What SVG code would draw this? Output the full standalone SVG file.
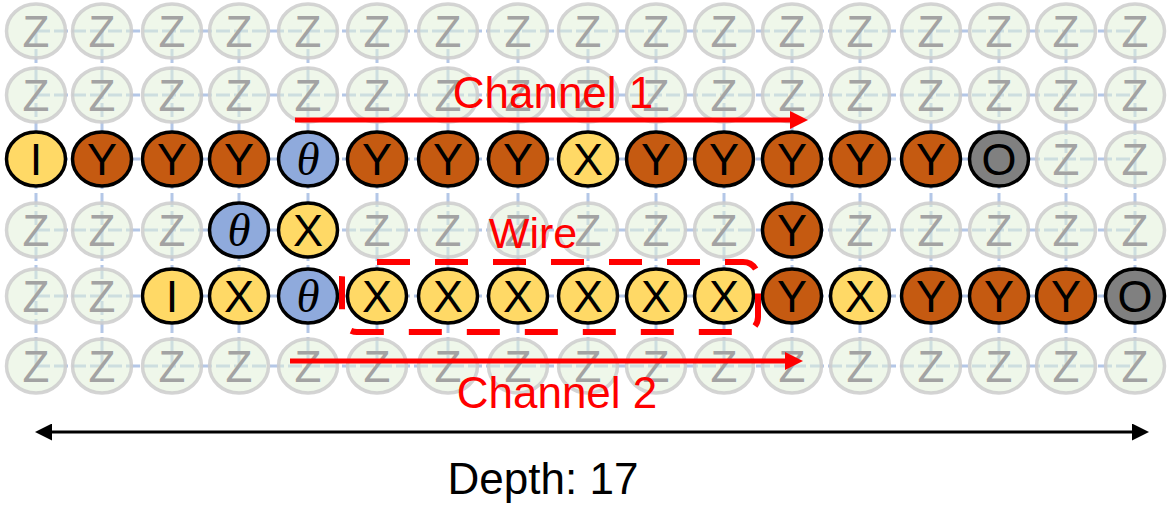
<svg xmlns="http://www.w3.org/2000/svg" width="1169" height="507" viewBox="0 0 1169 507">
<defs>
<style>
.grid{stroke:#B4C7E7;stroke-width:3;fill:none;stroke-dasharray:14 4}
ellipse{stroke-width:3.5;stroke:#000}
text{font-family:"Liberation Sans",Arial,sans-serif;font-size:45px;text-anchor:middle;fill:#000}
.z ellipse{fill:#E2F0D9;fill-opacity:0.55;stroke:#CCCCCC;stroke-opacity:0.85;stroke-width:3.5}
.z text{fill:#A3A3A3;font-size:44px}
.y ellipse{fill:#FFD966}
.o ellipse{fill:#C55A11}
.b ellipse{fill:#8FAADC}
.g ellipse{fill:#808080}
.b text{font-family:"Liberation Serif","DejaVu Serif",serif;font-style:italic;font-size:47px}
.lbl{fill:#FF0000;font-size:44px}
.red{stroke:#FF0000;stroke-width:5;fill:none}
.blk{stroke:#000;stroke-width:3;fill:none}
</style>
<marker id="ra" markerUnits="userSpaceOnUse" markerWidth="18" markerHeight="18" refX="8" refY="9" orient="auto"><path d="M0,0 L18,9 L0,18 z" fill="#FF0000"/></marker>
<marker id="ba" markerUnits="userSpaceOnUse" markerWidth="17" markerHeight="17" refX="8" refY="8.5" orient="auto-start-reverse"><path d="M0,0 L17,8.5 L0,17 z" fill="#000"/></marker>
</defs>
<g id="grid">
<path class="grid" d="M36,31V366 M102,31V366 M172,31V366 M239,31V366 M308,31V366 M377,31V366 M448,31V366 M518,31V366 M588,31V366 M656,31V366 M724,31V366 M792,31V366 M860,31V366 M931,31V366 M999,31V366 M1066,31V366 M1135,31V366 M36,31H1135 M36,95H1135 M36,159H1135 M36,230H1135 M36,296H1135 M36,366H1135"/>
</g>
<g id="nodes">
<!-- row 1 -->
<g id="n1-1" class="z"><ellipse cx="36" cy="31" rx="29.5" ry="27"/><text x="36" y="47">Z</text></g>
<g id="n1-2" class="z"><ellipse cx="102" cy="31" rx="29.5" ry="27"/><text x="102" y="47">Z</text></g>
<g id="n1-3" class="z"><ellipse cx="172" cy="31" rx="29.5" ry="27"/><text x="172" y="47">Z</text></g>
<g id="n1-4" class="z"><ellipse cx="239" cy="31" rx="29.5" ry="27"/><text x="239" y="47">Z</text></g>
<g id="n1-5" class="z"><ellipse cx="308" cy="31" rx="29.5" ry="27"/><text x="308" y="47">Z</text></g>
<g id="n1-6" class="z"><ellipse cx="377" cy="31" rx="29.5" ry="27"/><text x="377" y="47">Z</text></g>
<g id="n1-7" class="z"><ellipse cx="448" cy="31" rx="29.5" ry="27"/><text x="448" y="47">Z</text></g>
<g id="n1-8" class="z"><ellipse cx="518" cy="31" rx="29.5" ry="27"/><text x="518" y="47">Z</text></g>
<g id="n1-9" class="z"><ellipse cx="588" cy="31" rx="29.5" ry="27"/><text x="588" y="47">Z</text></g>
<g id="n1-10" class="z"><ellipse cx="656" cy="31" rx="29.5" ry="27"/><text x="656" y="47">Z</text></g>
<g id="n1-11" class="z"><ellipse cx="724" cy="31" rx="29.5" ry="27"/><text x="724" y="47">Z</text></g>
<g id="n1-12" class="z"><ellipse cx="792" cy="31" rx="29.5" ry="27"/><text x="792" y="47">Z</text></g>
<g id="n1-13" class="z"><ellipse cx="860" cy="31" rx="29.5" ry="27"/><text x="860" y="47">Z</text></g>
<g id="n1-14" class="z"><ellipse cx="931" cy="31" rx="29.5" ry="27"/><text x="931" y="47">Z</text></g>
<g id="n1-15" class="z"><ellipse cx="999" cy="31" rx="29.5" ry="27"/><text x="999" y="47">Z</text></g>
<g id="n1-16" class="z"><ellipse cx="1066" cy="31" rx="29.5" ry="27"/><text x="1066" y="47">Z</text></g>
<g id="n1-17" class="z"><ellipse cx="1135" cy="31" rx="29.5" ry="27"/><text x="1135" y="47">Z</text></g>
<!-- row 2 -->
<g id="n2-1" class="z"><ellipse cx="36" cy="95" rx="29.5" ry="27"/><text x="36" y="111">Z</text></g>
<g id="n2-2" class="z"><ellipse cx="102" cy="95" rx="29.5" ry="27"/><text x="102" y="111">Z</text></g>
<g id="n2-3" class="z"><ellipse cx="172" cy="95" rx="29.5" ry="27"/><text x="172" y="111">Z</text></g>
<g id="n2-4" class="z"><ellipse cx="239" cy="95" rx="29.5" ry="27"/><text x="239" y="111">Z</text></g>
<g id="n2-5" class="z"><ellipse cx="308" cy="95" rx="29.5" ry="27"/><text x="308" y="111">Z</text></g>
<g id="n2-6" class="z"><ellipse cx="377" cy="95" rx="29.5" ry="27"/><text x="377" y="111">Z</text></g>
<g id="n2-7" class="z"><ellipse cx="448" cy="95" rx="29.5" ry="27"/><text x="448" y="111">Z</text></g>
<g id="n2-8" class="z"><ellipse cx="518" cy="95" rx="29.5" ry="27"/><text x="518" y="111">Z</text></g>
<g id="n2-9" class="z"><ellipse cx="588" cy="95" rx="29.5" ry="27"/><text x="588" y="111">Z</text></g>
<g id="n2-10" class="z"><ellipse cx="656" cy="95" rx="29.5" ry="27"/><text x="656" y="111">Z</text></g>
<g id="n2-11" class="z"><ellipse cx="724" cy="95" rx="29.5" ry="27"/><text x="724" y="111">Z</text></g>
<g id="n2-12" class="z"><ellipse cx="792" cy="95" rx="29.5" ry="27"/><text x="792" y="111">Z</text></g>
<g id="n2-13" class="z"><ellipse cx="860" cy="95" rx="29.5" ry="27"/><text x="860" y="111">Z</text></g>
<g id="n2-14" class="z"><ellipse cx="931" cy="95" rx="29.5" ry="27"/><text x="931" y="111">Z</text></g>
<g id="n2-15" class="z"><ellipse cx="999" cy="95" rx="29.5" ry="27"/><text x="999" y="111">Z</text></g>
<g id="n2-16" class="z"><ellipse cx="1066" cy="95" rx="29.5" ry="27"/><text x="1066" y="111">Z</text></g>
<g id="n2-17" class="z"><ellipse cx="1135" cy="95" rx="29.5" ry="27"/><text x="1135" y="111">Z</text></g>
<!-- row 3 -->
<g id="n3-1" class="y"><ellipse cx="36" cy="159" rx="29.5" ry="27"/><text x="36" y="175">I</text></g>
<g id="n3-2" class="o"><ellipse cx="102" cy="159" rx="29.5" ry="27"/><text x="102" y="175">Y</text></g>
<g id="n3-3" class="o"><ellipse cx="172" cy="159" rx="29.5" ry="27"/><text x="172" y="175">Y</text></g>
<g id="n3-4" class="o"><ellipse cx="239" cy="159" rx="29.5" ry="27"/><text x="239" y="175">Y</text></g>
<g id="n3-5" class="b"><ellipse cx="308" cy="159" rx="29.5" ry="27"/><text x="308" y="175">θ</text></g>
<g id="n3-6" class="o"><ellipse cx="377" cy="159" rx="29.5" ry="27"/><text x="377" y="175">Y</text></g>
<g id="n3-7" class="o"><ellipse cx="448" cy="159" rx="29.5" ry="27"/><text x="448" y="175">Y</text></g>
<g id="n3-8" class="o"><ellipse cx="518" cy="159" rx="29.5" ry="27"/><text x="518" y="175">Y</text></g>
<g id="n3-9" class="y"><ellipse cx="588" cy="159" rx="29.5" ry="27"/><text x="588" y="175">X</text></g>
<g id="n3-10" class="o"><ellipse cx="656" cy="159" rx="29.5" ry="27"/><text x="656" y="175">Y</text></g>
<g id="n3-11" class="o"><ellipse cx="724" cy="159" rx="29.5" ry="27"/><text x="724" y="175">Y</text></g>
<g id="n3-12" class="o"><ellipse cx="792" cy="159" rx="29.5" ry="27"/><text x="792" y="175">Y</text></g>
<g id="n3-13" class="o"><ellipse cx="860" cy="159" rx="29.5" ry="27"/><text x="860" y="175">Y</text></g>
<g id="n3-14" class="o"><ellipse cx="931" cy="159" rx="29.5" ry="27"/><text x="931" y="175">Y</text></g>
<g id="n3-15" class="g"><ellipse cx="999" cy="159" rx="29.5" ry="27"/><text x="999" y="175">O</text></g>
<g id="n3-16" class="z"><ellipse cx="1066" cy="159" rx="29.5" ry="27"/><text x="1066" y="175">Z</text></g>
<g id="n3-17" class="z"><ellipse cx="1135" cy="159" rx="29.5" ry="27"/><text x="1135" y="175">Z</text></g>
<!-- row 4 -->
<g id="n4-1" class="z"><ellipse cx="36" cy="230" rx="29.5" ry="27"/><text x="36" y="246">Z</text></g>
<g id="n4-2" class="z"><ellipse cx="102" cy="230" rx="29.5" ry="27"/><text x="102" y="246">Z</text></g>
<g id="n4-3" class="z"><ellipse cx="172" cy="230" rx="29.5" ry="27"/><text x="172" y="246">Z</text></g>
<g id="n4-4" class="b"><ellipse cx="239" cy="230" rx="29.5" ry="27"/><text x="239" y="246">θ</text></g>
<g id="n4-5" class="y"><ellipse cx="308" cy="230" rx="29.5" ry="27"/><text x="308" y="246">X</text></g>
<g id="n4-6" class="z"><ellipse cx="377" cy="230" rx="29.5" ry="27"/><text x="377" y="246">Z</text></g>
<g id="n4-7" class="z"><ellipse cx="448" cy="230" rx="29.5" ry="27"/><text x="448" y="246">Z</text></g>
<g id="n4-8" class="z"><ellipse cx="518" cy="230" rx="29.5" ry="27"/><text x="518" y="246">Z</text></g>
<g id="n4-9" class="z"><ellipse cx="588" cy="230" rx="29.5" ry="27"/><text x="588" y="246">Z</text></g>
<g id="n4-10" class="z"><ellipse cx="656" cy="230" rx="29.5" ry="27"/><text x="656" y="246">Z</text></g>
<g id="n4-11" class="z"><ellipse cx="724" cy="230" rx="29.5" ry="27"/><text x="724" y="246">Z</text></g>
<g id="n4-12" class="o"><ellipse cx="792" cy="230" rx="29.5" ry="27"/><text x="792" y="246">Y</text></g>
<g id="n4-13" class="z"><ellipse cx="860" cy="230" rx="29.5" ry="27"/><text x="860" y="246">Z</text></g>
<g id="n4-14" class="z"><ellipse cx="931" cy="230" rx="29.5" ry="27"/><text x="931" y="246">Z</text></g>
<g id="n4-15" class="z"><ellipse cx="999" cy="230" rx="29.5" ry="27"/><text x="999" y="246">Z</text></g>
<g id="n4-16" class="z"><ellipse cx="1066" cy="230" rx="29.5" ry="27"/><text x="1066" y="246">Z</text></g>
<g id="n4-17" class="z"><ellipse cx="1135" cy="230" rx="29.5" ry="27"/><text x="1135" y="246">Z</text></g>
<!-- row 5 -->
<g id="n5-1" class="z"><ellipse cx="36" cy="296" rx="29.5" ry="27"/><text x="36" y="312">Z</text></g>
<g id="n5-2" class="z"><ellipse cx="102" cy="296" rx="29.5" ry="27"/><text x="102" y="312">Z</text></g>
<g id="n5-3" class="y"><ellipse cx="172" cy="296" rx="29.5" ry="27"/><text x="172" y="312">I</text></g>
<g id="n5-4" class="y"><ellipse cx="239" cy="296" rx="29.5" ry="27"/><text x="239" y="312">X</text></g>
<g id="n5-5" class="b"><ellipse cx="308" cy="296" rx="29.5" ry="27"/><text x="308" y="312">θ</text></g>
<g id="n5-6" class="y"><ellipse cx="377" cy="296" rx="29.5" ry="27"/><text x="377" y="312">X</text></g>
<g id="n5-7" class="y"><ellipse cx="448" cy="296" rx="29.5" ry="27"/><text x="448" y="312">X</text></g>
<g id="n5-8" class="y"><ellipse cx="518" cy="296" rx="29.5" ry="27"/><text x="518" y="312">X</text></g>
<g id="n5-9" class="y"><ellipse cx="588" cy="296" rx="29.5" ry="27"/><text x="588" y="312">X</text></g>
<g id="n5-10" class="y"><ellipse cx="656" cy="296" rx="29.5" ry="27"/><text x="656" y="312">X</text></g>
<g id="n5-11" class="y"><ellipse cx="724" cy="296" rx="29.5" ry="27"/><text x="724" y="312">X</text></g>
<g id="n5-12" class="o"><ellipse cx="792" cy="296" rx="29.5" ry="27"/><text x="792" y="312">Y</text></g>
<g id="n5-13" class="y"><ellipse cx="860" cy="296" rx="29.5" ry="27"/><text x="860" y="312">X</text></g>
<g id="n5-14" class="o"><ellipse cx="931" cy="296" rx="29.5" ry="27"/><text x="931" y="312">Y</text></g>
<g id="n5-15" class="o"><ellipse cx="999" cy="296" rx="29.5" ry="27"/><text x="999" y="312">Y</text></g>
<g id="n5-16" class="o"><ellipse cx="1066" cy="296" rx="29.5" ry="27"/><text x="1066" y="312">Y</text></g>
<g id="n5-17" class="g"><ellipse cx="1135" cy="296" rx="29.5" ry="27"/><text x="1135" y="312">O</text></g>
<!-- row 6 -->
<g id="n6-1" class="z"><ellipse cx="36" cy="366" rx="29.5" ry="27"/><text x="36" y="382">Z</text></g>
<g id="n6-2" class="z"><ellipse cx="102" cy="366" rx="29.5" ry="27"/><text x="102" y="382">Z</text></g>
<g id="n6-3" class="z"><ellipse cx="172" cy="366" rx="29.5" ry="27"/><text x="172" y="382">Z</text></g>
<g id="n6-4" class="z"><ellipse cx="239" cy="366" rx="29.5" ry="27"/><text x="239" y="382">Z</text></g>
<g id="n6-5" class="z"><ellipse cx="308" cy="366" rx="29.5" ry="27"/><text x="308" y="382">Z</text></g>
<g id="n6-6" class="z"><ellipse cx="377" cy="366" rx="29.5" ry="27"/><text x="377" y="382">Z</text></g>
<g id="n6-7" class="z"><ellipse cx="448" cy="366" rx="29.5" ry="27"/><text x="448" y="382">Z</text></g>
<g id="n6-8" class="z"><ellipse cx="518" cy="366" rx="29.5" ry="27"/><text x="518" y="382">Z</text></g>
<g id="n6-9" class="z"><ellipse cx="588" cy="366" rx="29.5" ry="27"/><text x="588" y="382">Z</text></g>
<g id="n6-10" class="z"><ellipse cx="656" cy="366" rx="29.5" ry="27"/><text x="656" y="382">Z</text></g>
<g id="n6-11" class="z"><ellipse cx="724" cy="366" rx="29.5" ry="27"/><text x="724" y="382">Z</text></g>
<g id="n6-12" class="z"><ellipse cx="792" cy="366" rx="29.5" ry="27"/><text x="792" y="382">Z</text></g>
<g id="n6-13" class="z"><ellipse cx="860" cy="366" rx="29.5" ry="27"/><text x="860" y="382">Z</text></g>
<g id="n6-14" class="z"><ellipse cx="931" cy="366" rx="29.5" ry="27"/><text x="931" y="382">Z</text></g>
<g id="n6-15" class="z"><ellipse cx="999" cy="366" rx="29.5" ry="27"/><text x="999" y="382">Z</text></g>
<g id="n6-16" class="z"><ellipse cx="1066" cy="366" rx="29.5" ry="27"/><text x="1066" y="382">Z</text></g>
<g id="n6-17" class="z"><ellipse cx="1135" cy="366" rx="29.5" ry="27"/><text x="1135" y="382">Z</text></g>
</g>
<g id="wire">
<rect x="342" y="262" width="416" height="70" rx="15" ry="15" fill="none" stroke="#FF0000" stroke-width="6" stroke-dasharray="33 25" stroke-dashoffset="38"/>
<text class="lbl" x="533" y="248" style="font-size:43px">Wire</text>
</g>
<g id="connectors">
<line class="red" x1="295" y1="120" x2="798" y2="120" marker-end="url(#ra)"/>
<line class="red" x1="290" y1="361" x2="793" y2="361" marker-end="url(#ra)"/>
<line class="blk" x1="44" y1="432" x2="1140" y2="432" marker-start="url(#ba)" marker-end="url(#ba)"/>
</g>
<g id="labels">
<text class="lbl" x="553" y="108">Channel 1</text>
<text class="lbl" x="557" y="408">Channel 2</text>
<text x="543" y="494" style="font-size:44px">Depth: 17</text>
</g>
</svg>
